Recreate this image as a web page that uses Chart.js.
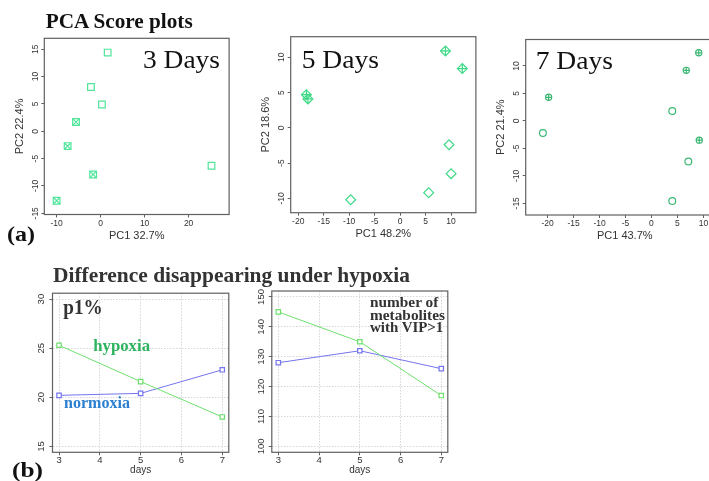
<!DOCTYPE html>
<html><head><meta charset="utf-8">
<script src="https://cdn.jsdelivr.net/npm/chart.js@4.4.1/dist/chart.umd.min.js"></script>
<style>
html,body{margin:0;padding:0;width:709px;height:481px;overflow:hidden;background:#fff;}
body{position:relative;}
canvas{position:absolute;}
svg{position:absolute;left:0;top:0;pointer-events:none;}
</style></head><body>
<canvas id="c1"></canvas>
<canvas id="c2"></canvas>
<canvas id="c3"></canvas>
<canvas id="c4"></canvas>
<canvas id="c5"></canvas>
<svg width="709" height="481" font-family="'Liberation Serif','Times New Roman',serif">
  <text x="45.7" y="28.3" font-size="20" font-weight="bold" fill="#111" textLength="147" lengthAdjust="spacingAndGlyphs">PCA Score plots</text>
  <text x="143" y="68.3" font-size="25" fill="#111" textLength="77" lengthAdjust="spacingAndGlyphs">3 Days</text>
  <text x="301.7" y="68.3" font-size="25" fill="#111" textLength="77.3" lengthAdjust="spacingAndGlyphs">5 Days</text>
  <text x="535.7" y="69.3" font-size="25" fill="#111" textLength="77.3" lengthAdjust="spacingAndGlyphs">7 Days</text>
  <text x="7" y="241" font-size="22" font-weight="bold" fill="#111" textLength="28" lengthAdjust="spacingAndGlyphs">(a)</text>
  <text x="53" y="281.7" font-size="21" font-weight="bold" fill="#333" textLength="357" lengthAdjust="spacingAndGlyphs">Difference disappearing under hypoxia</text>
  <text x="63.3" y="313.5" font-size="20" font-weight="bold" fill="#333" textLength="39.4" lengthAdjust="spacingAndGlyphs">p1%</text>
  <text x="93.3" y="350.7" font-size="16" font-weight="bold" fill="#2DB35F" textLength="56.7" lengthAdjust="spacingAndGlyphs">hypoxia</text>
  <text x="64" y="407.7" font-size="16" font-weight="bold" fill="#2B7FD0" textLength="66" lengthAdjust="spacingAndGlyphs">normoxia</text>
  <text x="370" y="307.3" font-size="14" font-weight="bold" fill="#333" textLength="68.3" lengthAdjust="spacingAndGlyphs">number of</text>
  <text x="370" y="319.5" font-size="14" font-weight="bold" fill="#333" textLength="75" lengthAdjust="spacingAndGlyphs">metabolites</text>
  <text x="370" y="331.7" font-size="14" font-weight="bold" fill="#333" textLength="73.3" lengthAdjust="spacingAndGlyphs">with VIP&gt;1</text>
  <text x="12" y="477" font-size="22" font-weight="bold" fill="#111" textLength="31" lengthAdjust="spacingAndGlyphs">(b)</text>
</svg>
<script>
// ---------- data ----------
const DAY3_OPEN_PC1  = [1.6, -2.2, 0.3, 25.2];
const DAY3_OPEN_PC2  = [14.4, 8.1, 4.9, -6.3];
const DAY3_CROSS_PC1 = [-5.6, -7.5, -1.7, -10.0];
const DAY3_CROSS_PC2 = [1.7, -2.7, -7.9, -12.7];

const DAY5_CROSS_PC1 = [-18.4, -18.1, 8.9, 12.2];
const DAY5_CROSS_PC2 = [4.7, 4.1, 10.9, 8.4];
const DAY5_OPEN_PC1  = [9.6, 10.0, 5.6, -9.7];
const DAY5_OPEN_PC2  = [-2.4, -6.5, -9.2, -10.2];

const DAY7_CROSS_PC1 = [-19.8, 6.7, 9.1, 9.2];
const DAY7_CROSS_PC2 = [4.3, 9.2, 12.4, -3.5];
const DAY7_OPEN_PC1  = [-20.9, 4.0, 7.1, 4.0];
const DAY7_OPEN_PC2  = [-2.2, 1.8, -7.4, -14.6];

const DAYS = [3, 5, 7];
const HYPOXIA_P1 = [25.3, 21.6, 18.0];
const NORMOXIA_P1 = [20.2, 20.4, 22.8];
const HYPOXIA_VIP = [145, 135, 117];
const NORMOXIA_VIP = [128, 132, 126];

const P1_X_TICKS = [-10, 0, 10, 20];
const P1_Y_TICKS = [-15, -10, -5, 0, 5, 10, 15];
const P2_X_TICKS = [-20, -15, -10, -5, 0, 5, 10];
const P2_Y_TICKS = [-10, -5, 0, 5, 10];
const P3_X_TICKS = [-20, -15, -10, -5, 0, 5, 10];
const P3_Y_TICKS = [-15, -10, -5, 0, 5, 10];
const DAY_TICKS = [3, 4, 5, 6, 7];
const P1PCT_TICKS = [15, 20, 25, 30];
const VIP_TICKS = [100, 110, 120, 130, 140, 150];

// ---------- helpers ----------
const SANS = "'Liberation Sans', Arial, Helvetica, sans-serif";
const FRAME_COL = '#606060';
const pts = (xs, ys) => xs.map((x, i) => ({x: x, y: ys[i]}));

const framePlugin = {
  id: 'frame',
  beforeDatasetsDraw(chart) {
    const a = chart.chartArea, ctx = chart.ctx;
    ctx.save();
    ctx.strokeStyle = FRAME_COL;
    ctx.lineWidth = 1.2;
    ctx.strokeRect(a.left, a.top, a.right - a.left, a.bottom - a.top);
    ctx.restore();
  }
};

function place(id, f, Wy, Hx) {
  const L0 = f.L - Wy, T0 = f.T - 6;
  const left = Math.floor(L0), top = Math.floor(T0);
  const right = Math.ceil(f.R + 4), bottom = Math.ceil(f.B + Hx);
  const cv = document.getElementById(id);
  cv.width = right - left; cv.height = bottom - top;
  cv.style.left = left + 'px'; cv.style.top = top + 'px';
  cv.style.width = (right - left) + 'px'; cv.style.height = (bottom - top) + 'px';
  return {cv: cv, padding: {left: L0 - left, top: f.T - top, right: right - f.R, bottom: bottom - (f.B + Hx)}};
}

function axis(o) {
  const isX = o.isX;
  return {
    type: 'linear', min: o.min, max: o.max,
    afterBuildTicks: sc => { sc.ticks = o.ticks.map(v => ({value: v})); },
    afterFit: sc => { if (isX) sc.height = o.size; else sc.width = o.size; },
    grid: {
      drawOnChartArea: !!o.grid, drawTicks: true, tickLength: 3,
      color: o.grid ? '#d6d6d6' : FRAME_COL, tickColor: FRAME_COL, tickBorderDash: [], lineWidth: 1
    },
    border: {display: false, dash: o.grid ? [1.5, 1.5] : []},
    ticks: {
      font: {family: SANS, size: o.tickSize}, color: '#333', padding: o.tickPad, autoSkip: false,
      minRotation: isX ? 0 : 90, maxRotation: isX ? 0 : 90, crossAlign: isX ? 'near' : 'center'
    },
    title: {display: !!o.title, text: o.title || '', font: {family: SANS, size: o.titleSize || 11}, color: '#333', padding: 0}
  };
}

function pca(id, f, xr, yr, xt, yt, xTitle, yTitle, datasets) {
  const Wy = 31, Hx = 28;
  const p = place(id, f, Wy, Hx);
  new Chart(p.cv, {
    type: 'scatter',
    data: {datasets: datasets},
    options: {
      responsive: false, animation: false, events: [],
      layout: {padding: p.padding},
      plugins: {legend: {display: false}, tooltip: {enabled: false}},
      scales: {
        x: axis({isX: true, min: xr[0], max: xr[1], ticks: xt, size: Hx, tickSize: 8.5, tickPad: 1, title: xTitle}),
        y: axis({isX: false, min: yr[0], max: yr[1], ticks: yt, size: Wy, tickSize: 8.5, tickPad: 0, title: yTitle})
      }
    },
    plugins: [framePlugin]
  });
}

function ds(data, style, r, col) {
  return {data: data, pointStyle: style, pointRadius: r, pointBorderWidth: 1.2,
          pointBorderColor: col, pointBackgroundColor: 'rgba(0,0,0,0)', borderColor: col,
          backgroundColor: 'rgba(0,0,0,0)', showLine: false, clip: false};
}

// ---------- PCA panels ----------
const C3 = '#4FE59A', C5 = '#3FD987', C7 = '#3BB874';
pca('c1', {L: 44.3, T: 38.3, R: 231, B: 214.5}, [-12.8, 29.2], [-15.22, 17.01], P1_X_TICKS, P1_Y_TICKS,
  'PC1 32.7%', 'PC2 22.4%', [
    ds(pts(DAY3_OPEN_PC1, DAY3_OPEN_PC2), 'rect', 4.7, C3),
    ds(pts(DAY3_CROSS_PC1, DAY3_CROSS_PC2), 'rect', 4.7, C3),
    ds(pts(DAY3_CROSS_PC1, DAY3_CROSS_PC2), 'crossRot', 4.7, C3)
  ]);

pca('c2', {L: 290.7, T: 36.7, R: 477.3, B: 212.7}, [-21.48, 14.87], [-12.04, 12.92], P2_X_TICKS, P2_Y_TICKS,
  'PC1 48.2%', 'PC2 18.6%', [
    ds(pts(DAY5_OPEN_PC1, DAY5_OPEN_PC2), 'rectRot', 4.9, C5),
    ds(pts(DAY5_CROSS_PC1, DAY5_CROSS_PC2), 'rectRot', 4.9, C5),
    ds(pts(DAY5_CROSS_PC1, DAY5_CROSS_PC2), 'cross', 4.9, C5)
  ]);

pca('c3', {L: 525.7, T: 39.5, R: 725, B: 215}, [-24.21, 13.92], [-17.13, 14.82], P3_X_TICKS, P3_Y_TICKS,
  'PC1 43.7%', 'PC2 21.4%', [
    ds(pts(DAY7_OPEN_PC1, DAY7_OPEN_PC2), 'circle', 3.4, C7),
    ds(pts(DAY7_CROSS_PC1, DAY7_CROSS_PC2), 'circle', 3.1, C7),
    ds(pts(DAY7_CROSS_PC1, DAY7_CROSS_PC2), 'cross', 3.1, C7)
  ]);

// ---------- line panels ----------
const HYP_COL = '#6EDF6E', NOR_COL = '#7474EE';
function linePanel(id, f, yr, yt, yPad, hyp, nor) {
  const Wy = 24, Hx = 24.4;
  const p = place(id, f, Wy, Hx);
  const mk = (vals, col) => ({
    data: pts(DAYS, vals), borderColor: col, borderWidth: 1, tension: 0, fill: false,
    pointStyle: 'rect', pointRadius: 3.1, pointBorderWidth: 1.2, pointBorderColor: col,
    pointBackgroundColor: '#fff', clip: false
  });
  new Chart(p.cv, {
    type: 'line',
    data: {datasets: [mk(hyp, HYP_COL), mk(nor, NOR_COL)]},
    options: {
      responsive: false, animation: false, events: [],
      layout: {padding: p.padding},
      plugins: {legend: {display: false}, tooltip: {enabled: false}},
      scales: {
        x: axis({isX: true, min: 2.84, max: 7.16, ticks: DAY_TICKS, size: Hx, tickSize: 9.5, tickPad: -1, title: 'days', titleSize: 10, grid: true}),
        y: axis({isX: false, min: yr[0], max: yr[1], ticks: yt, size: Wy, tickSize: 9.5, tickPad: yPad, grid: true})
      }
    },
    plugins: [framePlugin]
  });
}

linePanel('c4', {L: 52.5, T: 291, R: 229.8, B: 452.3}, [14.4, 30.6], P1PCT_TICKS, 2.5, HYPOXIA_P1, NORMOXIA_P1);
linePanel('c5', {L: 271.8, T: 291, R: 448.3, B: 452.3}, [98, 152], VIP_TICKS, -0.9, HYPOXIA_VIP, NORMOXIA_VIP);
</script>
</body></html>
